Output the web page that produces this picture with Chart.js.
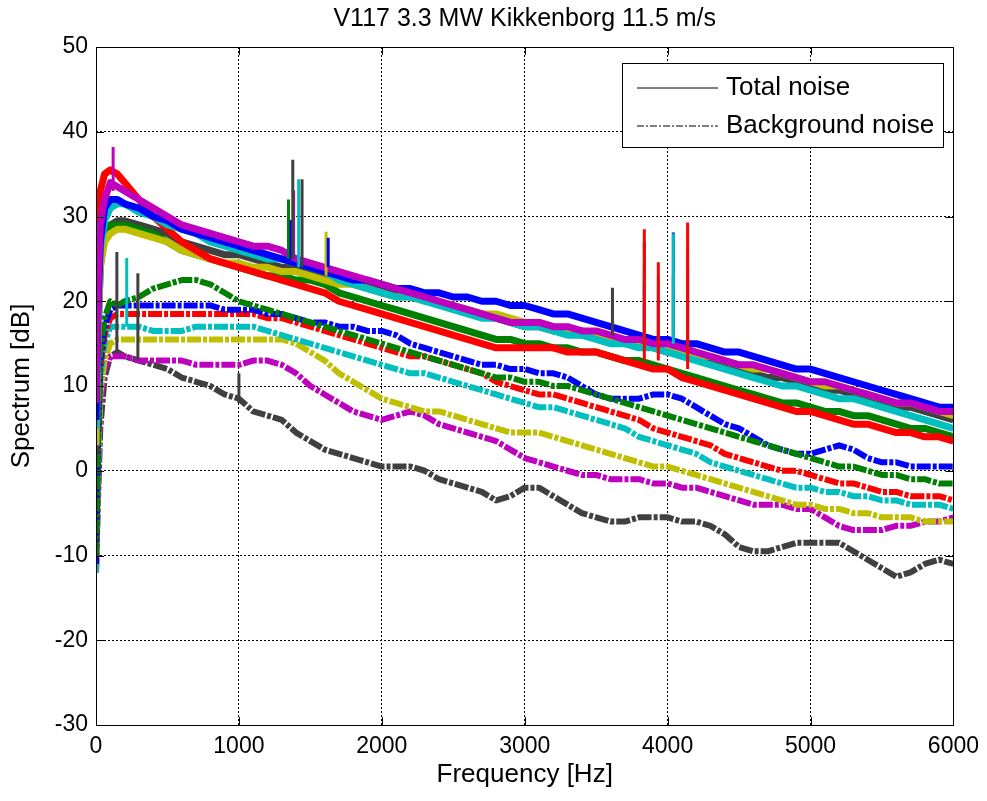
<!DOCTYPE html>
<html><head><meta charset="utf-8">
<script src="https://cdn.jsdelivr.net/npm/chart.js@4.4.0/dist/chart.umd.min.js"></script>
<style>html,body{margin:0;padding:0;background:#fff;}canvas{display:block;}</style>
</head><body>
<canvas id="c" width="987" height="801"></canvas>
<script>
// ---------- DATA ----------
const chartTitle = 'V117 3.3 MW Kikkenborg 11.5 m/s';
const xTitle = 'Frequency [Hz]';
const yTitle = 'Spectrum [dB]';
const legendLabels = ['Total noise', 'Background noise'];
const xTicks = [0, 1000, 2000, 3000, 4000, 5000, 6000];
const yTicks = [-30, -20, -10, 0, 10, 20, 30, 40, 50];

const freqHz = [0, 15, 30, 60, 100, 150, 200,
  300, 400, 500, 600, 700, 800, 900, 1000,
  1100, 1200, 1300, 1400, 1500, 1600, 1700, 1800, 1900, 2000,
  2100, 2200, 2300, 2400, 2500, 2600, 2700, 2800, 2900, 3000,
  3100, 3200, 3300, 3400, 3500, 3600, 3700, 3800, 3900, 4000,
  4100, 4200, 4300, 4400, 4500, 4600, 4700, 4800, 4900, 5000,
  5100, 5200, 5300, 5400, 5500, 5600, 5700, 5800, 5900, 6000];

// Total noise (solid)
const totalMagenta = [8, 22, 29, 32, 34, 33.5, 33,
  32, 31, 30, 29, 28.5, 28, 27.5, 27,
  26.5, 26.5, 26, 25, 24.5, 24, 23.5, 23, 22.5, 22,
  21.5, 21, 20.5, 20, 19.5, 19, 18.5, 18, 17.5, 17.5,
  17.5, 17, 17, 16.5, 16.5, 16, 15.5, 15.5, 15, 15,
  14.5, 14, 13.5, 13, 12.5, 12.5, 12, 11.5, 11, 10.5,
  10.5, 10, 9.5, 9, 8.5, 8, 8, 7.5, 7, 7];
const totalBlue = [6, 20, 27, 31, 32, 32, 31.5,
  31, 30, 29.5, 28.5, 28, 27.5, 27, 26.5,
  26, 25.5, 25, 24.5, 24, 23.5, 23, 22.5, 22.5, 22,
  21.5, 21.5, 21, 21, 20.5, 20.5, 20, 20, 19.5, 19.5,
  19, 18.5, 18.5, 18, 17.5, 17, 16.5, 16, 15.5, 15.5,
  15, 15, 14.5, 14, 14, 13.5, 13, 12.5, 12, 12,
  11.5, 11, 10.5, 10, 9.5, 9, 8.5, 8, 7.5, 7.5];
const totalCyan = [5, 19, 26, 29.5, 31, 31.5, 31.5,
  30.5, 30, 29, 28.5, 28, 27, 26.5, 26,
  25.5, 25, 25, 24.5, 24, 23.5, 22.5, 22, 21.5, 21,
  20.5, 20.5, 20, 19.5, 19, 18.5, 18, 18, 17.5, 17,
  17, 16.5, 16, 16, 15.5, 15, 15, 14.5, 14.5, 14,
  13.5, 13, 12.5, 12, 11.5, 11, 10.5, 10, 10, 9.5,
  9, 8.5, 8.5, 8, 7.5, 7, 6.5, 6, 5.5, 5];
const totalRed = [22, 28, 33, 35, 35.5, 35, 34,
  32, 30, 28.5, 27, 26, 25, 24.5, 24,
  23.5, 23, 22.5, 22, 21.5, 21, 20, 19.5, 19, 18.5,
  18, 17.5, 17, 16.5, 16, 15.5, 15, 14.5, 14.5, 14.5,
  14.5, 14.5, 14, 14, 14, 13.5, 13, 12.5, 12, 12,
  11, 10.5, 10, 9.5, 9, 8.5, 8, 7.5, 7, 7,
  6.5, 6, 5.5, 5.5, 5, 4.5, 4.5, 4, 4, 3.5];
const totalGreen = [4, 18, 25, 28, 29, 29, 29,
  28.5, 28, 27, 26, 25.5, 25, 24.5, 24,
  23.5, 23, 23, 22.5, 22.5, 22, 21, 20.5, 20, 19.5,
  19, 18.5, 18, 17.5, 17, 16.5, 16, 15.5, 15.5, 15,
  15, 14.5, 14.5, 14, 14, 13.5, 13, 13, 12.5, 12,
  11.5, 11, 10.5, 10, 9.5, 9, 8.5, 8, 8, 7.5,
  7, 7, 6.5, 6.5, 6, 5.5, 5, 5, 4.5, 4];
const totalYellow = [3, 17, 24, 27, 28, 28.5, 28.5,
  28, 27.5, 27, 26, 25.5, 25, 24.5, 24.5,
  24, 24, 23.5, 23.5, 23, 22.5, 22, 22, 21.5, 21,
  20.5, 20.5, 20, 20, 19.5, 19, 18.5, 18.5, 18, 17.5,
  17.5, 17, 16.5, 16.5, 16, 15.5, 15.5, 15, 15, 14.5,
  14, 13.5, 13.5, 13, 12.5, 12, 12, 11.5, 11, 10.5,
  10, 10, 9.5, 9, 8.5, 8, 8, 7.5, 7, 6.5];
const totalGray = [2, 16, 24, 28, 29, 29.5, 29.5,
  29, 28.5, 28, 27, 26.5, 26, 25.5, 25.5,
  25, 24.5, 24, 24, 23.5, 23, 22.5, 22.5, 22, 21.5,
  21, 20.5, 20.5, 20, 19.5, 19, 18.5, 18, 17.5, 17,
  17, 16.5, 16.5, 16, 16, 15.5, 15, 15, 14.5, 14,
  14, 13.5, 13, 12.5, 12, 11.5, 11, 11, 10.5, 10,
  9.5, 9.5, 9, 8.5, 8, 7.5, 7.5, 7, 6.5, 6];

// Background noise (dash-dot)
const bgGreen = [-10, 5, 14, 18, 20, 19.5, 20,
  20.5, 21.5, 22, 22.5, 22.5, 22, 21, 20,
  19.5, 19, 18.5, 18, 17.5, 17, 16.5, 16, 15.5, 15,
  14.5, 14, 13.5, 13, 12.5, 12, 11.5, 11, 11, 10.5,
  10.5, 10, 10, 9.5, 9, 8.5, 8, 7.5, 7, 6.5,
  6, 5.5, 5, 4.5, 4, 3.5, 3, 2.5, 2, 1.5,
  1, 0.5, 0.5, 0, -0.5, -0.5, -1, -1, -1.5, -1.5];
const bgBlue = [-11, 4, 13, 17, 19, 19.5, 19.5,
  19.5, 19.5, 19.5, 19.5, 19.5, 19.5, 19, 19,
  19, 18.5, 18.5, 18, 17.5, 17.5, 17, 17, 16.5, 16.5,
  16, 15, 14.5, 14, 13.5, 13, 12.5, 12.5, 12, 12,
  11.5, 11.5, 11, 10, 9, 8.5, 8.5, 8.5, 9, 9,
  8.5, 7.5, 6.5, 5.5, 5, 4, 3, 2.5, 2, 2,
  2.5, 3, 2.5, 1.5, 1, 1, 0.5, 0.5, 0.5, 0.5];
const bgRed = [-11, 3, 12, 16, 18, 18.5, 18.5,
  18.5, 18.5, 18.5, 18.5, 18.5, 18.5, 18.5, 18.5,
  18.5, 18, 18, 17.5, 17, 16.5, 16, 15.5, 15, 14.5,
  14, 13.5, 13.5, 13, 12.5, 12, 11.5, 10.5, 10, 9.5,
  9, 9, 8.5, 8, 7.5, 7, 6.5, 6, 5, 4.5,
  4, 3.5, 3, 2, 1.5, 1, 0.5, 0, 0, -0.5,
  -1, -1.5, -1.5, -2, -2.5, -2.5, -3, -3, -3, -3.5];
const bgCyan = [-12, 2, 11, 15, 17, 17, 17,
  17, 16.5, 16.5, 16.5, 17, 17, 17, 17,
  17, 16.5, 16, 15.5, 15, 14.5, 14, 13.5, 13, 12.5,
  12, 11.5, 11.5, 11, 10.5, 10, 9.5, 9, 8.5, 8,
  7.5, 7.5, 7, 6.5, 6, 5.5, 5, 4, 3.5, 3,
  2.5, 2, 1, 0.5, 0, -0.5, -1, -1.5, -2, -2,
  -2.5, -2.5, -3, -3, -3.5, -3.5, -4, -4, -4, -4.5];
const bgYellow = [-12, 1, 9, 13, 15, 15.5, 15.5,
  15.5, 15.5, 15.5, 15.5, 15.5, 15.5, 15.5, 15.5,
  15.5, 15.5, 15.5, 15, 14, 13, 11.5, 10.5, 9.5, 8.5,
  8, 7.5, 7, 7, 6.5, 6, 5.5, 5, 4.5, 4.5,
  4.5, 4, 3.5, 3, 2.5, 2, 1.5, 1, 0.5, 0.5,
  0, -0.5, -1, -1.5, -2, -2.5, -3, -3.5, -4, -4,
  -4.5, -4.5, -5, -5, -5.5, -5.5, -5.5, -6, -6, -6];
const bgMagenta = [-12, 0, 8, 12, 13.5, 13.5, 13.5,
  13, 13, 13, 13, 12.5, 12.5, 12.5, 12.5,
  13, 13, 12.5, 11.5, 10, 9, 8, 7, 6.5, 6,
  6.5, 7, 6.5, 5.5, 5, 4.5, 4, 3.5, 2.5, 1.5,
  1, 0.5, 0, -0.5, -0.5, -1, -1, -1, -1.5, -1.5,
  -2, -2, -2.5, -3, -3.5, -4, -4, -4, -4.5, -4.5,
  -5.5, -6.5, -7, -7, -7, -6.5, -6.5, -6, -6, -5.5];
const bgGray = [-12, -3, 5, 11, 13.5, 14, 13.5,
  13, 12.5, 12, 11, 10.5, 10, 9, 8.5,
  7, 6.5, 6, 4.5, 3.5, 2.5, 2, 1.5, 1, 0.5,
  0.5, 0.5, 0, -1, -1.5, -2, -2.5, -3.5, -3, -2,
  -2, -3, -4, -5, -5.5, -6, -6, -5.5, -5.5, -5.5,
  -6, -6, -6.5, -7.5, -9, -9.5, -9.5, -9, -8.5, -8.5,
  -8.5, -8.5, -9.5, -10.5, -11.5, -12.5, -12, -11, -10.5, -11];

// Tonal peaks: [frequency Hz, foot dB, top dB]
const peaksMagenta = [[120, 33, 38.2], [1383, 25, 33.1], [3837, 15, 22], [3935, 15, 20], [4040, 15, 23], [4140, 14, 24]];
const peaksCyan = [[1418, 24, 34.4], [3837, 15, 24], [3935, 15, 23], [4040, 15, 28], [4140, 14, 26]];
const peaksBlue = [[1365, 25, 29.6], [1625, 24, 27.5], [4040, 16, 28.1]];
const peaksRed = [[3837, 13, 28.5], [3935, 13, 24.6], [4140, 12, 29.3]];
const peaksGreen = [[1347, 25, 32], [3837, 15, 27]];
const peaksYellow = [[1610, 23, 28.2]];
const peaksGray = [[1377, 25, 36.7], [1442, 24, 34.4], [3614, 16, 21.6]];
const peaksBgGray = [[146, 14, 25.8], [293, 13, 23.3], [1000, 8, 11.5]];
const peaksBgCyan = [[215, 17, 25.1]];

// ---------- STYLE ----------
const FONT = '"Liberation Sans", Arial, Helvetica, sans-serif';
const COL = {blue:'#0000FF', green:'#008000', red:'#FF0000', cyan:'#00BFBF', magenta:'#BF00BF', yellow:'#BFBF00', gray:'#404040'};

function pts(values){ return freqHz.map((f, i) => ({x: f, y: values[i]})); }
function spikePts(peaks){
  const out = [];
  peaks.forEach(p => { out.push({x: p[0], y: p[1]}, {x: p[0], y: p[2]}, {x: p[0], y: null}); });
  return out;
}
const datasets = [];
function addSpikes(peaks, color){ datasets.push({data: spikePts(peaks), borderColor: color, borderWidth: 3, spanGaps: false}); }
function addTotal(vals, color){ datasets.push({data: pts(vals), borderColor: color, borderWidth: 7}); }
function addBg(vals, color){ datasets.push({data: pts(vals), borderColor: color, borderWidth: 6, borderDash: [14, 2, 4, 2]}); }

addSpikes(peaksGray, COL.gray);
addSpikes(peaksRed, COL.red);
addSpikes(peaksCyan, COL.cyan);
addSpikes(peaksMagenta, COL.magenta);
addSpikes(peaksBlue, COL.blue);
addSpikes(peaksGreen, COL.green);
addSpikes(peaksYellow, COL.yellow);
addTotal(totalMagenta, COL.magenta);
addTotal(totalBlue, COL.blue);
addTotal(totalCyan, COL.cyan);
addTotal(totalRed, COL.red);
addTotal(totalYellow, COL.yellow);
addTotal(totalGreen, COL.green);
addTotal(totalGray, COL.gray);
addSpikes(peaksBgGray, COL.gray);
addSpikes(peaksBgCyan, COL.cyan);
addBg(bgGreen, COL.green);
addBg(bgBlue, COL.blue);
addBg(bgRed, COL.red);
addBg(bgCyan, COL.cyan);
addBg(bgYellow, COL.yellow);
addBg(bgMagenta, COL.magenta);
addBg(bgGray, COL.gray);

const decor = {
  id: 'decor',
  afterDraw(chart){
    const ctx = chart.ctx, a = chart.chartArea;
    const xs = chart.scales.x, ys = chart.scales.y;
    ctx.save();
    ctx.strokeStyle = '#000'; ctx.lineWidth = 1; ctx.setLineDash([]);
    ctx.strokeRect(Math.round(a.left) + 0.5, Math.round(a.top) + 0.5, Math.round(a.right - a.left), Math.round(a.bottom - a.top));
    ctx.beginPath();
    xTicks.forEach(v => { const px = Math.round(xs.getPixelForValue(v)) + 0.5;
      ctx.moveTo(px, a.bottom); ctx.lineTo(px, a.bottom - 8);
      ctx.moveTo(px, a.top); ctx.lineTo(px, a.top + 8); });
    yTicks.forEach(v => { const py = Math.round(ys.getPixelForValue(v)) + 0.5;
      ctx.moveTo(a.left, py); ctx.lineTo(a.left + 8, py);
      ctx.moveTo(a.right, py); ctx.lineTo(a.right - 8, py); });
    ctx.stroke();
    ctx.fillStyle = '#000';
    ctx.font = '25px ' + FONT;
    ctx.textAlign = 'center'; ctx.textBaseline = 'middle';
    ctx.fillText(chartTitle, (a.left + a.right) / 2, 19);
    ctx.font = '26px ' + FONT;
    ctx.fillText(xTitle, (a.left + a.right) / 2, 775);
    ctx.save();
    ctx.translate(22, (a.top + a.bottom) / 2);
    ctx.rotate(-Math.PI / 2);
    ctx.fillText(yTitle, 0, 0);
    ctx.restore();
    const lx = 622, ly = 63, lw = 321, lh = 84;
    ctx.fillStyle = '#fff';
    ctx.fillRect(lx, ly, lw, lh);
    ctx.strokeStyle = '#000'; ctx.lineWidth = 1;
    ctx.strokeRect(lx + 0.5, ly + 0.5, lw, lh);
    ctx.beginPath(); ctx.moveTo(637, 88); ctx.lineTo(718, 88); ctx.stroke();
    ctx.setLineDash([7, 2, 2, 2]);
    ctx.beginPath(); ctx.moveTo(637, 126); ctx.lineTo(718, 126); ctx.stroke();
    ctx.setLineDash([]);
    ctx.fillStyle = '#000'; ctx.textAlign = 'left'; ctx.textBaseline = 'middle';
    ctx.font = '26px ' + FONT;
    ctx.fillText(legendLabels[0], 726, 88);
    ctx.fillText(legendLabels[1], 726, 126);
    ctx.restore();
  }
};

new Chart(document.getElementById('c'), {
  type: 'line',
  data: {datasets},
  options: {
    responsive: false, animation: false, devicePixelRatio: 1,
    layout: {padding: {left: 0, right: 31, top: 47, bottom: 0}},
    elements: {point: {radius: 0, hoverRadius: 0}, line: {tension: 0, borderCapStyle: 'butt', borderJoinStyle: 'round'}},
    plugins: {legend: {display: false}, tooltip: {enabled: false}, title: {display: false}},
    scales: {
      x: {type: 'linear', min: 0, max: 6000,
        afterFit: s => { s.height = 76; },
        afterBuildTicks: s => { s.ticks = xTicks.map(v => ({value: v})); },
        ticks: {color: '#000', font: {family: FONT, size: 23}, padding: 8, maxRotation: 0, callback: v => String(v)},
        grid: {color: '#000', lineWidth: 1, drawTicks: false},
        border: {display: false, dash: [2, 2]}},
      y: {type: 'linear', min: -30, max: 50,
        afterFit: s => { s.width = 96; },
        afterBuildTicks: s => { s.ticks = yTicks.map(v => ({value: v})); },
        ticks: {color: '#000', font: {family: FONT, size: 23}, padding: 8, callback: v => String(v)},
        grid: {color: '#000', lineWidth: 1, drawTicks: false},
        border: {display: false, dash: [2, 2]}}
    }
  },
  plugins: [decor]
});
</script>
</body></html>
